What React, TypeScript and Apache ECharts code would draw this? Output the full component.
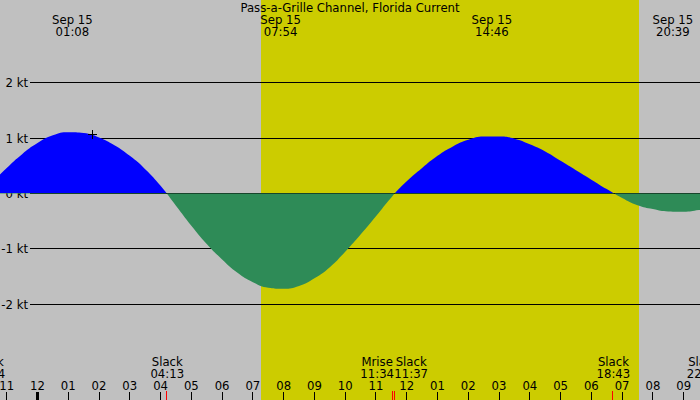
import React, { useEffect, useRef } from "react";
import * as echarts from "echarts";

const TITLE = "Pass-a-Grille Channel, Florida Current";

// axis ticks (hours from local midnight, Sep 15)
const hourTicks = [-1, 0, 1, 2, 3, 4, 5, 6, 7, 8, 9, 10, 11, 12, 13, 14, 15, 16, 17, 18, 19, 20, 21];
const hourTickLabels = ["11", "12", "01", "02", "03", "04", "05", "06", "07", "08", "09", "10", "11", "12", "01", "02", "03", "04", "05", "06", "07", "08", "09"];

// speed levels
const ktLevels = [2, 1, 0, -1, -2];
const ktLabels = ["2 kt", "1 kt", "0 kt", "-1 kt", "-2 kt"];

// current curve, every half hour (hours, knots)
const curveHours = [
  -1.5, -1, -0.5, 0, 0.5, 1, 1.5, 2, 2.5, 3, 3.5, 4, 4.5, 5, 5.5, 6, 6.5, 7, 7.5, 8,
  8.5, 9, 9.5, 10, 10.5, 11, 11.5, 12, 12.5, 13, 13.5, 14, 14.5, 15, 15.5, 16, 16.5,
  17, 17.5, 18, 18.5, 19, 19.5, 20, 20.5, 21, 21.5, 22,
];
const curveKnots = [
  0.18, 0.46, 0.71, 0.91, 1.05, 1.105, 1.09, 1.01, 0.87, 0.68, 0.44, 0.14, -0.22, -0.58, -0.91, -1.19, -1.43, -1.6, -1.7, -1.72,
  -1.67, -1.53, -1.33, -1.05, -0.74, -0.41, -0.07, 0.22, 0.46, 0.68, 0.85, 0.97, 1.03, 1.03, 0.99, 0.89, 0.76,
  0.59, 0.42, 0.25, 0.08, -0.08, -0.21, -0.28, -0.325, -0.33, -0.3, -0.26,
];

// daylight
const sunriseHour = 7.267; // 07:16
const sunsetHour = 19.55; // 19:33

// max current events (top labels)
const maxHours = [1.133, 7.9, 14.767, 20.65];
const maxDates = ["Sep 15", "Sep 15", "Sep 15", "Sep 15"];
const maxTimes = ["01:08", "07:54", "14:46", "20:39"];

// bottom events
const eventHours = [-1.6, 4.217, 11.567, 11.617, 18.717, 21.65];
const eventNames = ["Slack", "Slack", "Mrise", "Slack", "Slack", "Slack"];
const eventTimes = ["22:24", "04:13", "11:34", "11:37", "18:43", "22:05"];

// "now" marker
const markerHour = [1.795];
const markerKnots = [1.07];

const FONT = '11.7px "DejaVu Sans"';
const BG = "#c0c0c0";
const DAY = "#cccc00";
const FLOOD = "#0000ff";
const EBB = "#2e8b57";

function layoutCenters(xs: number[], w: number): number[] {
  const c = xs.slice();
  for (let i = 0; i < c.length - 1; i++) {
    if (c[i + 1] - c[i] < w) {
      const mid = (c[i] + c[i + 1]) / 2;
      c[i] = mid - w / 2;
      c[i + 1] = mid + w / 2;
    }
  }
  return c;
}

export default function App() {
  const ref = useRef<HTMLDivElement>(null);
  useEffect(() => {
    if (!ref.current) return;
    const chart = echarts.init(ref.current, undefined, { renderer: "svg" });
    const option: any = {
      animation: false,
      backgroundColor: BG,
      grid: { left: 0, right: 0, top: 0, bottom: 0 },
      xAxis: { type: "value", min: -1.2187, max: 21.531, show: false },
      yAxis: { type: "value", min: -3.7274, max: 3.4928, show: false },
      visualMap: {
        type: "piecewise",
        show: false,
        dimension: 1,
        seriesIndex: 2,
        pieces: [
          { gte: -10, lt: 0, color: EBB },
          { gte: 0, lte: 10, color: FLOOD },
        ],
      },
      graphic: [
        {
          type: "text",
          x: 350,
          y: 7.5,
          style: { text: TITLE, font: FONT, fill: "#000", align: "center", verticalAlign: "middle" },
          z: 100,
        },
      ],
      series: [
        {
          type: "custom",
          z: 0,
          silent: true,
          data: [[sunriseHour, sunsetHour]],
          renderItem: (params: any, api: any) => {
            const x0 = Math.round(api.coord([api.value(0), 0])[0]);
            const x1 = Math.round(api.coord([api.value(1), 0])[0]);
            const cs = params.coordSys;
            return { type: "rect", shape: { x: x0, y: cs.y, width: x1 - x0, height: cs.height }, style: { fill: DAY } };
          },
        },
        {
          type: "custom",
          z: 1,
          silent: true,
          data: ktLevels.map((v) => [0, v]),
          renderItem: (params: any, api: any) => {
            const y = Math.floor(api.coord([0, api.value(1)])[1]) + 0.5;
            const cs = params.coordSys;
            return {
              type: "group",
              children: [
                { type: "line", shape: { x1: 30, y1: y, x2: cs.x + cs.width, y2: y }, style: { stroke: "#000", lineWidth: 1 } },
                { type: "text", style: { text: ktLabels[params.dataIndex], x: 28, y: y, align: "right", verticalAlign: "middle", font: FONT, fill: "#000" } },
              ],
            };
          },
        },
        {
          type: "line",
          z: 2,
          silent: true,
          smooth: true,
          symbol: "none",
          data: curveHours.map((h, i) => [h, curveKnots[i]]),
          lineStyle: { width: 0, opacity: 0 },
          areaStyle: { opacity: 1, origin: "auto" },
        },
        {
          type: "custom",
          z: 3,
          silent: true,
          data: hourTicks.map((h) => [h, 0]),
          renderItem: (params: any, api: any) => {
            const h = api.value(0);
            const xr = api.coord([h, 0])[0];
            const x = Math.floor(xr) + 0.5;
            const bottom = params.coordSys.y + params.coordSys.height;
            const thick = h % 24 === 0;
            return {
              type: "group",
              children: [
                { type: "line", shape: { x1: x, y1: bottom - 8, x2: x, y2: bottom }, style: { stroke: "#000", lineWidth: thick ? 3 : 1 } },
                { type: "text", style: { text: hourTickLabels[params.dataIndex], x: xr, y: bottom - 14.5, align: "center", verticalAlign: "middle", font: FONT, fill: "#000" } },
              ],
            };
          },
        },
        {
          type: "custom",
          z: 4,
          silent: true,
          data: eventHours.map((h) => [h, 0]),
          renderItem: (params: any, api: any) => {
            const xs = eventHours.map((h) => api.coord([h, 0])[0]);
            const centers = layoutCenters(xs, 34);
            const i = params.dataIndex;
            const x = Math.round(xs[i]) - 0.5;
            const cx = centers[i];
            const bottom = params.coordSys.y + params.coordSys.height;
            return {
              type: "group",
              children: [
                { type: "line", shape: { x1: x, y1: bottom - 9, x2: x, y2: bottom }, style: { stroke: "#ff0000", lineWidth: 1 } },
                { type: "text", style: { text: eventNames[i], x: cx, y: bottom - 38.5, align: "center", verticalAlign: "middle", font: FONT, fill: "#000" } },
                { type: "text", style: { text: eventTimes[i], x: cx, y: bottom - 26.5, align: "center", verticalAlign: "middle", font: FONT, fill: "#000" } },
              ],
            };
          },
        },
        {
          type: "custom",
          z: 5,
          silent: true,
          data: maxHours.map((h) => [h, 0]),
          renderItem: (params: any, api: any) => {
            const i = params.dataIndex;
            const x = api.coord([api.value(0), 0])[0];
            const top = params.coordSys.y;
            return {
              type: "group",
              children: [
                { type: "text", style: { text: maxDates[i], x: x, y: top + 19.5, align: "center", verticalAlign: "middle", font: FONT, fill: "#000" } },
                { type: "text", style: { text: maxTimes[i], x: x, y: top + 31.5, align: "center", verticalAlign: "middle", font: FONT, fill: "#000" } },
              ],
            };
          },
        },
        {
          type: "custom",
          z: 6,
          silent: true,
          data: markerHour.map((h, i) => [h, markerKnots[i]]),
          renderItem: (params: any, api: any) => {
            const p = api.coord([api.value(0), api.value(1)]);
            const cx = Math.floor(p[0]) + 0.5;
            const cy = Math.floor(p[1]) + 0.5;
            return {
              type: "group",
              children: [
                { type: "line", shape: { x1: cx - 4.5, y1: cy, x2: cx + 4.5, y2: cy }, style: { stroke: "#000", lineWidth: 1 } },
                { type: "line", shape: { x1: cx, y1: cy - 4.5, x2: cx, y2: cy + 4.5 }, style: { stroke: "#000", lineWidth: 1 } },
              ],
            };
          },
        },
      ],
    };
    chart.setOption(option);
    return () => chart.dispose();
  }, []);
  return <div ref={ref} style={{ position: "fixed", left: 0, top: 0, width: 700, height: 400 }} />;
}
